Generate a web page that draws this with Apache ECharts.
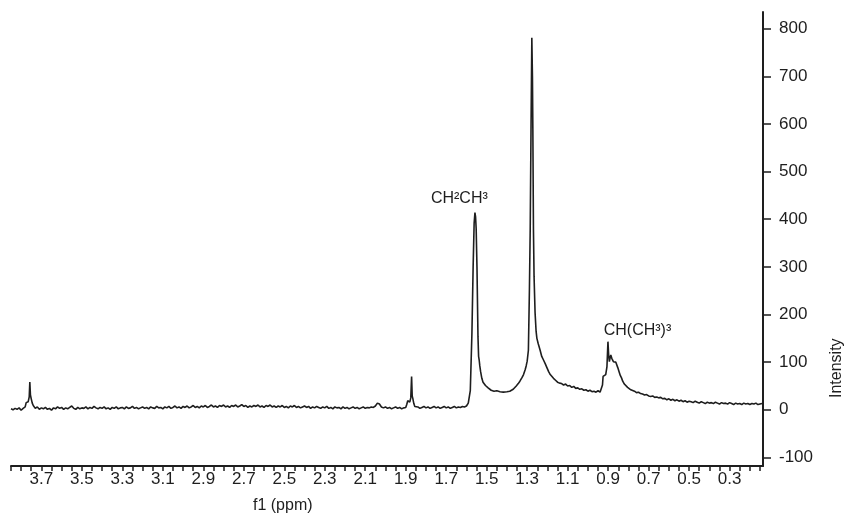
<!DOCTYPE html>
<html>
<head>
<meta charset="utf-8">
<script src="https://cdn.jsdelivr.net/npm/echarts@6/dist/echarts.min.js"></script>
<style>
  html, body { margin: 0; padding: 0; background: #fff; }
  #chart { width: 846px; height: 524px; }
</style>
</head>
<body>
<div id="chart"></div>
<script>
// [ppm, intensity]
const baselineLeft = [
  [3.85,2],[3.84,0],[3.83,3],[3.82,1],[3.81,4],[3.80,-1],[3.79,3],[3.78,6],[3.775,15],[3.77,19],
  [3.765,17],[3.76,27],[3.757,58],[3.754,31],[3.75,23],[3.745,14],[3.74,9],[3.735,5],[3.73,3],[3.72,6],
  [3.71,1],[3.70,4],[3.69,2],[3.68,5],[3.67,1],[3.66,3],[3.65,-1],[3.64,4],[3.63,2],[3.62,6],
  [3.61,3],[3.60,5],[3.59,1],[3.58,4],[3.57,2],[3.56,5],[3.55,8],[3.54,3],[3.53,1],[3.52,5],
  [3.51,2],[3.50,4],[3.49,3],[3.48,6],[3.47,2],[3.46,5],[3.45,3],[3.44,7],[3.43,4],[3.42,2],
  [3.41,5],[3.40,3],[3.39,6],[3.38,2],[3.37,4],[3.36,1],[3.35,5],[3.34,3],[3.33,6],[3.32,2],
  [3.31,4],[3.30,5],[3.29,2],[3.28,6],[3.27,3],[3.26,4],[3.25,7],[3.24,3],[3.23,5],[3.22,2],
  [3.21,4],[3.20,6],[3.19,3],[3.18,5],[3.17,2],[3.16,6],[3.15,4],[3.14,3],[3.13,7],[3.12,4],
  [3.11,5],[3.10,2],[3.09,6],[3.08,4],[3.07,7],[3.06,3],[3.05,5],[3.04,8],[3.03,4],[3.02,6],
  [3.01,3],[3.00,7],[2.99,5],[2.98,8],[2.97,4],[2.96,6],[2.95,9],[2.94,5],[2.93,7],[2.92,4],
  [2.91,8],[2.90,6],[2.89,9],[2.88,5],[2.87,7],[2.86,10],[2.85,6],[2.84,8],[2.83,5],[2.82,9],
  [2.81,7],[2.80,10],[2.79,6],[2.78,8],[2.77,5],[2.76,9],[2.75,7],[2.74,10],[2.73,6],[2.72,8],
  [2.71,11],[2.70,7],[2.69,9],[2.68,5],[2.67,8],[2.66,6],[2.65,9],[2.64,7],[2.63,10],[2.62,6],
  [2.61,8],[2.60,5],[2.59,9],[2.58,7],[2.57,10],[2.56,6],[2.55,8],[2.54,5],[2.53,8],[2.52,6],
  [2.51,9],[2.50,5],[2.49,7],[2.48,4],[2.47,8],[2.46,6],[2.45,9],[2.44,5],[2.43,7],[2.42,4],
  [2.41,6],[2.40,8],[2.39,5],[2.38,7],[2.37,3],[2.36,6],[2.35,4],[2.34,7],[2.33,5],[2.32,3],
  [2.31,6],[2.30,4],[2.29,7],[2.28,3],[2.27,5],[2.26,2],[2.25,6],[2.24,4],[2.23,5],[2.22,2],
  [2.21,6],[2.20,3],[2.19,5],[2.18,2],[2.17,4],[2.16,6],[2.15,3],[2.14,5],[2.13,2],[2.12,4],
  [2.11,6],[2.10,3],[2.09,5],[2.08,4],[2.07,6],[2.06,5],[2.05,8],[2.045,11],[2.04,14],[2.035,16],
  [2.03,12],[2.025,9],[2.02,6],[2.01,4],[2.00,6],[1.99,3],[1.98,5],[1.97,2],[1.96,4],[1.95,6],
  [1.94,3],[1.93,5],[1.92,2],[1.91,4],[1.90,5],[1.895,11],[1.89,19],[1.885,23],[1.88,16],[1.875,25],
  [1.871,70],[1.868,29],[1.865,24],[1.86,13],[1.855,7],[1.85,4],[1.84,6],[1.83,3],[1.82,5],[1.81,7],
  [1.80,4],[1.79,6],[1.78,3],[1.77,5],[1.76,7],[1.75,4],[1.74,6],[1.73,3],[1.72,5],[1.71,7],
  [1.70,4],[1.69,6],[1.68,3],[1.67,5],[1.66,7],[1.65,4],[1.64,6],[1.63,5],[1.62,7],[1.61,6],
  [1.60,8],[1.595,10],[1.591,14]
];

const peakCH2CH3 = [
  [1.581,40],[1.573,160],[1.567,300],[1.562,392],[1.558,414],[1.555,405],[1.552,380],[1.548,300],
  [1.543,153],[1.540,112],[1.537,104],[1.534,92],[1.530,80],[1.524,66],[1.518,58],[1.512,55],
  [1.506,51],[1.500,49],[1.493,46],[1.486,44],[1.478,41],[1.470,43],[1.464,39],[1.458,38],
  [1.450,40],[1.442,36],[1.434,38],[1.426,35],[1.418,37],[1.409,36]
];

const peakMain = [
  [1.400,38],[1.394,35],[1.386,39],[1.378,41],[1.369,43],[1.362,47],[1.354,50],[1.344,55],
  [1.336,60],[1.325,68],[1.318,74],[1.310,84],[1.305,92],[1.300,102],[1.294,125],[1.289,250],
  [1.285,380],[1.281,590],[1.277,781],[1.274,700],[1.272,590],[1.269,378],[1.266,280],[1.261,204],
  [1.256,165],[1.252,150],[1.245,138],[1.236,125],[1.228,112],[1.220,105],[1.211,97],[1.202,88],
  [1.194,80],[1.186,74],[1.178,70],[1.170,66],[1.160,62],[1.150,58],[1.140,56],[1.130,55],
  [1.120,52],[1.110,54],[1.100,50],[1.090,51],[1.080,47],[1.070,49],[1.060,45],[1.050,46],
  [1.040,43],[1.030,44],[1.020,41],[1.010,42],[1.000,39],[0.990,41],[0.980,38],[0.970,39],
  [0.960,37],[0.950,40],[0.940,37],[0.932,38]
];

const peakCH = [
  [0.928,52],[0.925,70],[0.918,72],[0.912,74],[0.906,90],[0.901,143],[0.897,112],[0.894,101],
  [0.890,110],[0.887,115],[0.882,108],[0.878,104],[0.874,101],[0.868,103],[0.862,100],[0.857,97],
  [0.852,88],[0.846,80],[0.840,72],[0.834,67],[0.828,60],[0.820,54],[0.812,50],[0.804,47],
  [0.796,44],[0.788,42],[0.780,40],[0.770,39],[0.760,36],[0.750,37]
];

const tailRight = [
  [0.740,34],[0.730,33],[0.720,31],[0.710,32],[0.700,29],[0.690,28],[0.680,29],[0.670,26],
  [0.660,27],[0.650,25],[0.640,26],[0.630,23],[0.620,24],[0.610,21],[0.600,23],[0.590,20],
  [0.580,22],[0.570,19],[0.560,21],[0.550,18],[0.540,20],[0.530,17],[0.520,19],[0.510,16],
  [0.500,18],[0.490,17],[0.480,15],[0.470,18],[0.460,16],[0.450,14],[0.440,17],[0.430,15],
  [0.420,13],[0.410,16],[0.400,14],[0.390,15],[0.380,13],[0.370,16],[0.360,14],[0.350,12],
  [0.340,15],[0.330,13],[0.320,14],[0.310,12],[0.300,15],[0.290,13],[0.280,11],[0.270,14],
  [0.260,12],[0.250,13],[0.240,11],[0.230,14],[0.220,12],[0.210,13],[0.200,11],[0.190,13],
  [0.180,12],[0.170,14],[0.160,11],[0.150,12],[0.140,13]
];

const xTickLabels = [3.7, 3.5, 3.3, 3.1, 2.9, 2.7, 2.5, 2.3, 2.1, 1.9, 1.7, 1.5, 1.3, 1.1, 0.9, 0.7, 0.5, 0.3];
const yTickLabels = [-100, 0, 100, 200, 300, 400, 500, 600, 700, 800];

// annotations: [ppm, intensity, text]
const annotations = [
  [1.635, 443, 'CH²CH³'],
  [0.755, 166, 'CH(CH³)³']
];

const spectrum = [].concat(baselineLeft, peakCH2CH3, peakMain, peakCH, tailRight);

const xTicks = [];
for (let i = 3; i <= 77; i++) xTicks.push(+(i * 0.05).toFixed(2));

const font = "'Liberation Sans', Arial, sans-serif";
const ink = '#1e1e1e';

const chart = echarts.init(document.getElementById('chart'));

chart.setOption({
  animation: false,
  grid: { left: 11, right: 83, top: 12, bottom: 58 },
  xAxis: {
    type: 'value',
    inverse: true,
    min: 0.135,
    max: 3.85,
    axisLine: { show: true, onZero: false, lineStyle: { color: ink, width: 2 } },
    axisTick: { show: true, length: 5, customValues: xTicks, lineStyle: { color: ink, width: 1.5 } },
    axisLabel: {
      customValues: xTickLabels,
      formatter: v => v.toFixed(1),
      color: ink, fontFamily: font, fontSize: 17, margin: 5
    },
    splitLine: { show: false }
  },
  yAxis: {
    type: 'value',
    position: 'right',
    min: -118,
    max: 835,
    axisLine: { show: true, onZero: false, lineStyle: { color: ink, width: 2 } },
    axisTick: { show: true, length: 8, customValues: yTickLabels, lineStyle: { color: ink, width: 1.5 } },
    axisLabel: {
      customValues: yTickLabels,
      color: ink, fontFamily: font, fontSize: 17, margin: 16
    },
    splitLine: { show: false }
  },
  graphic: [
    {
      type: 'text', left: 253, top: 498,
      style: { text: 'f1 (ppm)', fill: ink, font: '16px ' + font }
    },
    {
      type: 'text', x: 829, y: 398, rotation: Math.PI / 2,
      style: { text: 'Intensity', fill: ink, font: '16px ' + font }
    }
  ],
  series: [{
    type: 'line',
    data: spectrum,
    showSymbol: false,
    lineStyle: { color: ink, width: 1.6 },
    markPoint: {
      symbol: 'circle',
      symbolSize: 1,
      itemStyle: { color: 'transparent' },
      label: {
        show: true,
        position: 'inside',
        color: ink,
        fontFamily: font,
        fontSize: 16,
        formatter: p => p.name
      },
      data: annotations.map(a => ({ coord: [a[0], a[1]], name: a[2] }))
    }
  }]
});
</script>
</body>
</html>
